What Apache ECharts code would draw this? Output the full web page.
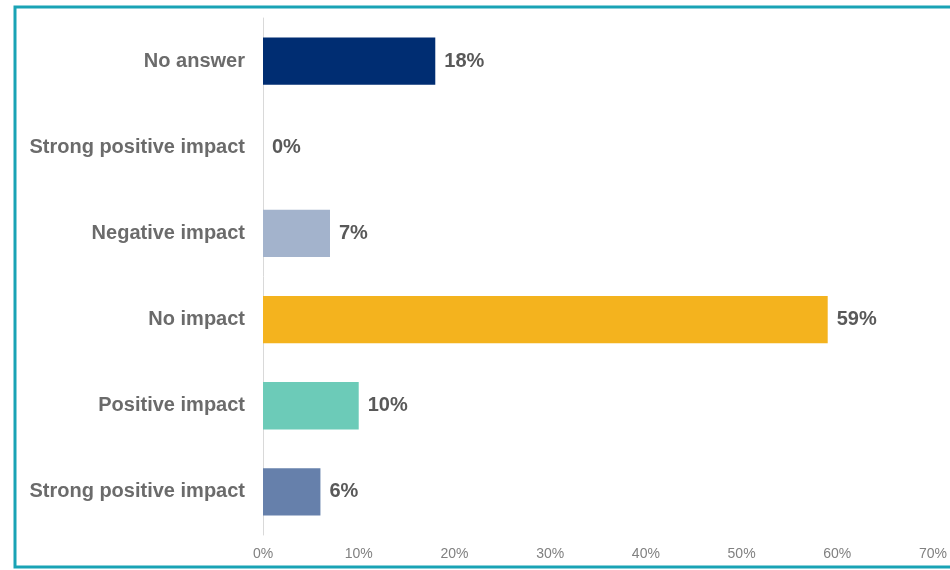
<!DOCTYPE html>
<html><head><meta charset="utf-8">
<script src="https://cdn.jsdelivr.net/npm/echarts@6/dist/echarts.min.js"></script>
<style>html,body{margin:0;padding:0;background:#fff}#c{width:950px;height:570px}</style>
</head><body><div id="c"></div>
<script>
const categories = ["No answer","Strong positive impact","Negative impact","No impact","Positive impact","Strong positive impact"];
const values = [18, 0, 7, 59, 10, 6];
const barColors = ["#002D72","#A3B3CC","#A3B3CC","#F4B31E","#6CCBB8","#6680AB"];
const xTicks = [0,10,20,30,40,50,60,70];

const chart = echarts.init(document.getElementById('c'));
chart.setOption({
  animation:false,
  backgroundColor:'#fff',
  graphic:[{type:'rect',shape:{x:15,y:7,width:960,height:560},style:{fill:'none',stroke:'#1AA3B5',lineWidth:3},z:100}],
  grid:{left:263,right:15,top:18,bottom:35},
  xAxis:{type:'value',min:0,max:70,interval:10,
    splitLine:{show:false},axisLine:{show:false},axisTick:{show:false},
    axisLabel:{formatter:v=>v+'%',color:'#808080',fontSize:14,fontFamily:'Liberation Sans, Arial',margin:12}},
  yAxis:{type:'category',data:categories,inverse:true,
    axisLine:{show:true,lineStyle:{color:'#D9D9D9',width:1}},axisTick:{show:false},
    axisLabel:{color:'#6B6B6B',fontSize:20,fontWeight:'bold',fontFamily:'Liberation Sans, Arial',margin:18}},
  series:[{type:'bar',data:values.map((v,i)=>({value:v,itemStyle:{color:barColors[i]}})),
    barCategoryGap:'45%',
    label:{show:true,position:'right',distance:9,formatter:p=>p.value+'%',color:'#595959',fontSize:20,fontWeight:'bold',fontFamily:'Liberation Sans, Arial'}}]
});
</script></body></html>
